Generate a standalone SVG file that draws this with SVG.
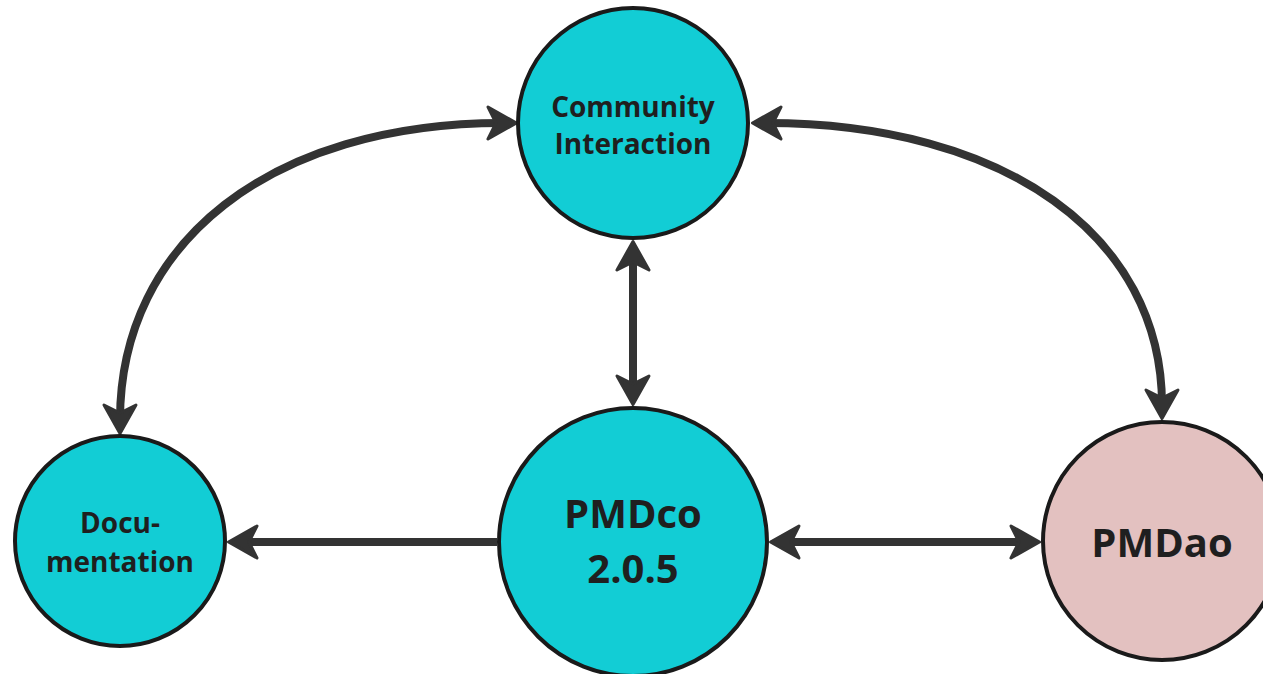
<svg xmlns="http://www.w3.org/2000/svg" width="1263" height="674" viewBox="0 0 1263 674">
  <style>
    .node { stroke: #1a1a1a; stroke-width: 4; }
    .cyan { fill: #12CDD5; }
    .pink { fill: #E3C1C0; }
    .lbl { font-family: "Open Sans", "Noto Sans", sans-serif; font-weight: 700; fill: #1f1f1f; text-anchor: middle; }
    .sm { font-size: 28px; }
    .lg { font-size: 40px; }
    .conn { fill: none; stroke: #333333; stroke-width: 8; }
  </style>
  <defs>
    <marker id="arr" markerUnits="userSpaceOnUse" viewBox="-36 -22 40 44" markerWidth="40" markerHeight="44" refX="-15" refY="0" orient="auto-start-reverse">
      <path d="M-1.5,0 L-30,-16 L-22,0 L-30,16 Z" fill="#333333" stroke="#333333" stroke-width="3" stroke-linejoin="round"/>
    </marker>
  </defs>

  <g id="connectors">
    <path class="conn" d="M120,420 C120,242 271,123 503,123" marker-start="url(#arr)" marker-end="url(#arr)"/>
    <path class="conn" d="M766,123 C1005,123 1162,236 1162,405" marker-start="url(#arr)" marker-end="url(#arr)"/>
    <path class="conn" d="M633,255 L633,391" marker-start="url(#arr)" marker-end="url(#arr)"/>
    <path class="conn" d="M497,542 L242,542" marker-end="url(#arr)"/>
    <path class="conn" d="M784,542 L1026,542" marker-start="url(#arr)" marker-end="url(#arr)"/>
  </g>

  <g id="community">
    <circle class="node cyan" cx="633" cy="123" r="115"/>
    <text class="lbl sm" x="633" y="117">Community</text>
    <text class="lbl sm" x="633" y="154">Interaction</text>
  </g>

  <g id="documentation">
    <circle class="node cyan" cx="120" cy="541" r="105"/>
    <text class="lbl sm" x="120" y="533">Docu-</text>
    <text class="lbl sm" x="120" y="572">mentation</text>
  </g>

  <g id="pmdco">
    <circle class="node cyan" cx="633" cy="542" r="134"/>
    <text class="lbl lg" x="633" y="528">PMDco</text>
    <text class="lbl lg" x="633" y="583">2.0.5</text>
  </g>

  <g id="pmdao">
    <circle class="node pink" cx="1162" cy="541" r="119"/>
    <text class="lbl lg" x="1162" y="557">PMDao</text>
  </g>
</svg>
